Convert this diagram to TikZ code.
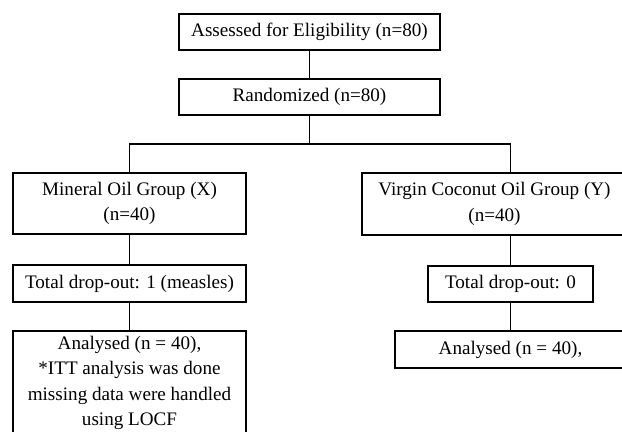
\documentclass[tikz,border=0pt]{standalone}
\usepackage{fontspec}
\setmainfont{Liberation Serif}
\begin{document}
\begin{tikzpicture}[x=0.025cm, y=-0.025cm, line width=0.8pt,
  box/.style={shape=rectangle, draw=black, line width=0.8pt, inner sep=0pt, align=center,
    font=\fontsize{13.6}{18.2}\selectfont}]
\useasboundingbox (0,0) rectangle (622,432);
\clip (0,0) rectangle (622,432);
\node[box, minimum width=6.525cm, minimum height=0.9cm] (elig) at (309.5,32) {Assessed for Eligibility (n=80)};
\node[box, minimum width=6.525cm, minimum height=0.9cm] (rand) at (309.5,97) {Randomized (n=80)};
\node[box, minimum width=5.825cm, minimum height=1.525cm] (mineral) at (129.5,203.5) {Mineral Oil Group (X)\\(n=40)};
\node[box, minimum width=6.625cm, minimum height=1.55cm] (virgin) at (494.5,204) {Virgin Coconut Oil Group (Y)\\(n=40)};
\node[box, minimum width=5.825cm, minimum height=0.925cm] (dropL) at (129.5,283.5) {Total drop-out: 1 (measles)};
\node[box, minimum width=4.125cm, minimum height=0.9cm] (dropR) at (510.5,284) {Total drop-out: 0};
\node[box, minimum width=5.825cm, minimum height=2.6cm] (anaL) at (129.5,383) {Analysed (n = 40),\\*ITT analysis was done\\missing data were handled\\using LOCF};
\node[box, minimum width=5.775cm, minimum height=0.925cm] (anaR) at (510.5,349.5) {Analysed (n = 40),};
\coordinate (split) at (309.5,144);
\path [-, draw=black] (elig) edge (rand);
\path [-, draw=black] (rand) edge (split);
\draw (mineral) |- (split) -| (virgin.north -| dropR);
\path [-, draw=black] (mineral) edge (dropL);
\path [-, draw=black] (dropL) edge (anaL);
\path [-, draw=black] (virgin.south -| dropR) edge (dropR);
\path [-, draw=black] (dropR) edge (anaR);
\end{tikzpicture}
\end{document}
